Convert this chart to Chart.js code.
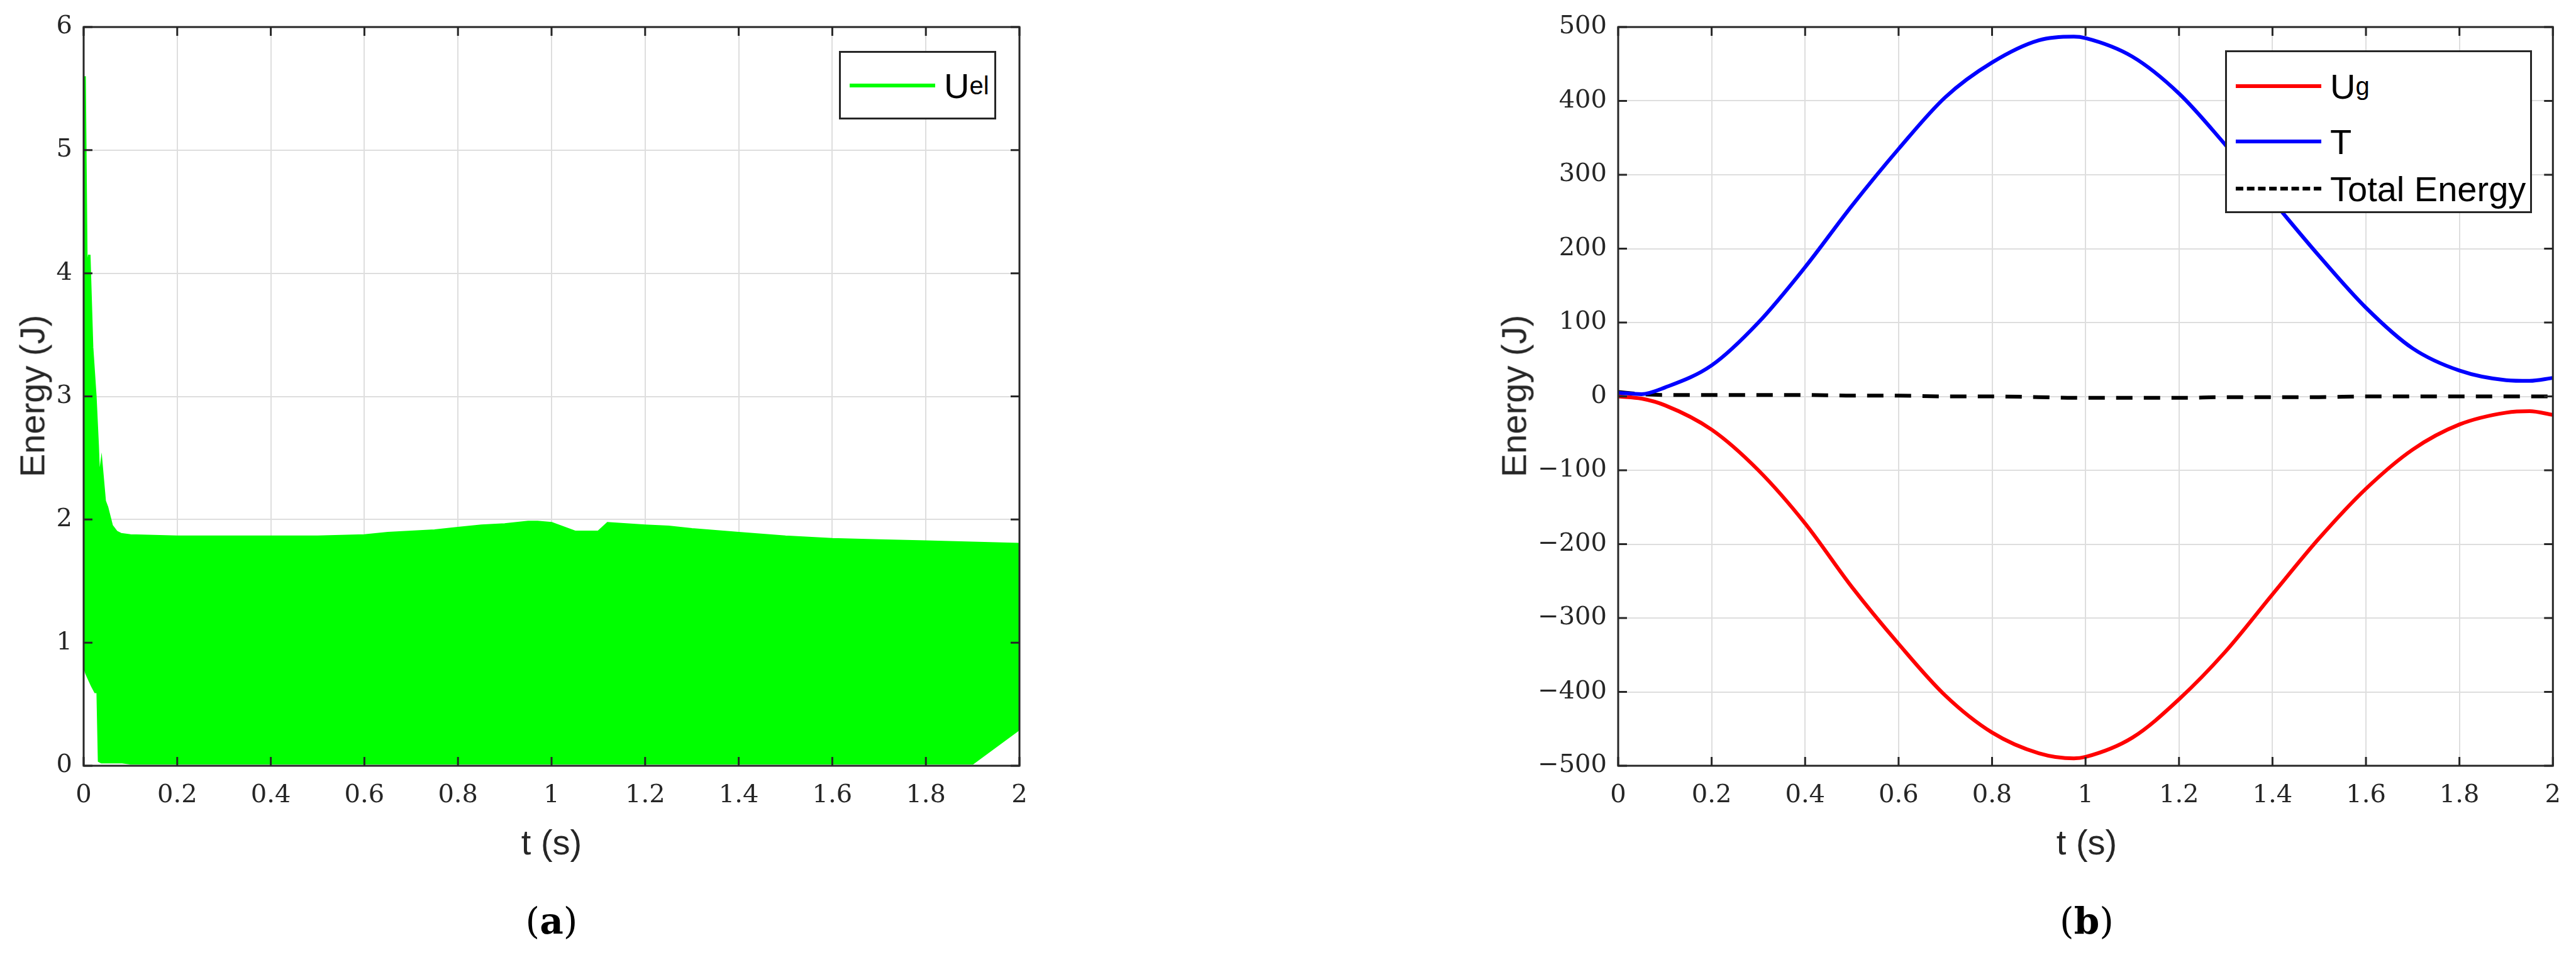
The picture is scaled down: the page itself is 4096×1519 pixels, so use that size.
<!DOCTYPE html>
<html><head><meta charset="utf-8">
<script src="https://cdn.jsdelivr.net/npm/chart.js@4"></script>
<style>
body{margin:0;background:#fff;width:4096px;height:1519px;position:relative;overflow:hidden}
canvas{position:absolute;top:0}
.t{position:absolute;font-family:"Liberation Sans",Arial,sans-serif;font-size:56px;color:#262626;white-space:nowrap}
.lab{position:absolute;font-family:"DejaVu Serif","Liberation Serif",serif;font-weight:bold;font-size:58px;color:#000}
.leg{position:absolute;border:3px solid #262626;background:#fff;box-sizing:border-box}
.row{position:absolute;left:14px;height:60px;display:flex;align-items:center;font-family:"Liberation Sans",Arial,sans-serif;font-size:56px;color:#000}
.sw{width:136px;height:0;margin-right:14px}
sub{font-size:40px;vertical-align:-14px}
</style></head><body>
<div id="wa" style="position:absolute;left:0;top:0;width:1700px;height:1519px"><canvas id="ca"></canvas></div>
<div id="wb" style="position:absolute;left:2350px;top:0;width:1746px;height:1519px"><canvas id="cb"></canvas></div>
<div class="t" style="left:51px;top:630px;transform:translate(-50%,-50%) rotate(-90deg)">Energy (J)</div>
<div class="t" style="left:877px;top:1339px;transform:translate(-50%,-50%)">t (s)</div>
<div class="t" style="left:2407px;top:630px;transform:translate(-50%,-50%) rotate(-90deg)">Energy (J)</div>
<div class="t" style="left:3318px;top:1339px;transform:translate(-50%,-50%)">t (s)</div>
<div class="lab" style="left:877px;top:1465px;transform:translate(-50%,-50%)"><span style="font-weight:normal">(</span>a<span style="font-weight:normal">)</span></div>
<div class="lab" style="left:3318px;top:1465px;transform:translate(-50%,-50%)"><span style="font-weight:normal">(</span>b<span style="font-weight:normal">)</span></div>
<div class="leg" style="left:1334px;top:81px;width:250px;height:109px">
 <div class="row" style="top:22px"><div class="sw" style="border-top:6px solid #00ff00"></div>U<sub>el</sub></div>
</div>
<div class="leg" style="left:3538px;top:80px;width:488px;height:259px">
 <div class="row" style="top:24px"><div class="sw" style="border-top:6px solid #ff0000"></div>U<sub>g</sub></div>
 <div class="row" style="top:112px"><div class="sw" style="border-top:6px solid #0000ff"></div>T</div>
 <div class="row" style="top:187px"><div class="sw" style="border-top:6px dashed #000"></div>Total Energy</div>
</div>
<script>
// Panel (a): U_el envelope (upper peaks and lower troughs of the fast oscillation)
const tA = [0,0.002,0.006,0.012,0.018,0.025,0.03,0.033,0.038,0.045,0.05,0.06,0.07,0.08,0.1,0.2,0.3,0.4,0.5,0.6,0.65,0.7,0.75,0.8,0.85,0.9,0.95,0.97,1.0,1.05,1.1,1.12,1.2,1.25,1.3,1.4,1.5,1.6,1.7,1.8,1.9,2.0];
const uelUpper = [3.6,5.6,4.0,4.15,3.4,3.0,2.6,2.3,2.45,2.15,2.1,1.95,1.9,1.88,1.87,1.86,1.86,1.86,1.86,1.87,1.89,1.9,1.91,1.93,1.95,1.96,1.98,1.98,1.97,1.9,1.9,1.97,1.95,1.94,1.92,1.89,1.86,1.84,1.83,1.82,1.81,1.8];
const uelLower = [2.2,0.8,0.75,0.7,0.65,0.6,0.6,0.04,0.03,0.03,0.03,0.03,0.03,0.03,0.02,0.02,0.02,0.02,0.02,0.02,0.02,0.02,0.02,0.02,0.02,0.02,0.02,0.02,0.02,0.02,0.02,0.02,0.02,0.02,0.02,0.02,0.02,0.02,0.02,0.02,0.02,0.3];
// Panel (b)
const tB = [0,0.05,0.1,0.2,0.3,0.4,0.5,0.6,0.7,0.8,0.9,0.975,1.0,1.1,1.2,1.3,1.4,1.5,1.6,1.7,1.8,1.9,1.95,2.0];
const Ug = [0,-3,-12,-45,-100,-172,-258,-335,-405,-455,-483,-490,-488,-462,-410,-345,-268,-192,-125,-72,-38,-22,-20,-25];
const Tk = [5,3,12,42,100,175,258,335,405,452,482,487,485,460,410,340,265,190,120,65,35,22,21,25];
const Etot = [6,3,2,2,2,2,1,1,0,0,-1,-2,-2,-2,-2,-1,-1,-1,0,0,0,0,0,0];
const xTicks = [0,0.2,0.4,0.6,0.8,1,1.2,1.4,1.6,1.8,2];

const pts = (xs, ys) => xs.map((x,i)=>({x, y: ys[i]}));
const box = {id:'box', afterDatasetsDraw(c){const a=c.chartArea,g=c.ctx;g.save();g.strokeStyle='#262626';g.lineWidth=3;g.strokeRect(a.left,a.top,a.right-a.left,a.bottom-a.top);
  // inward tick marks
  g.lineWidth=3;const xs=c.scales.x, ys=c.scales.y;
  xs.ticks.forEach(t=>{const p=xs.getPixelForValue(t.value);g.beginPath();g.moveTo(p,a.bottom);g.lineTo(p,a.bottom-14);g.moveTo(p,a.top);g.lineTo(p,a.top+14);g.stroke();});
  ys.ticks.forEach(t=>{const p=ys.getPixelForValue(t.value);g.beginPath();g.moveTo(a.left,p);g.lineTo(a.left+14,p);g.moveTo(a.right,p);g.lineTo(a.right-14,p);g.stroke();});
  g.restore();}};
const tickFont = {family:'"DejaVu Serif","Liberation Serif",serif', size:40};
const fmt = v => (v<0?'\u2212':'')+Math.abs(v);
function scales(ymin,ymax,step,yw){
  return {
    x:{type:'linear',min:0,max:2,afterBuildTicks:s=>{s.ticks=xTicks.map(v=>({value:v}));},
       afterFit:s=>{s.height=60;},grid:{color:'#dedede',lineWidth:2,drawTicks:false},border:{display:false},
       ticks:{font:tickFont,color:'#262626',padding:24,maxRotation:0,callback:fmt}},
    y:{min:ymin,max:ymax,afterFit:s=>{s.width=yw;},grid:{color:'#dedede',lineWidth:2,drawTicks:false},border:{display:false},
       ticks:{font:tickFont,color:'#262626',padding:18,stepSize:step,callback:fmt}}
  };
}
const common = {responsive:true,maintainAspectRatio:false,animation:false,plugins:{legend:{display:false},tooltip:{enabled:false}},elements:{point:{radius:0}}};

new Chart(document.getElementById('ca'),{type:'line',
  data:{datasets:[
    {data:pts(tA,uelUpper),borderColor:'#00ff00',backgroundColor:'#00ff00',borderWidth:4,fill:1},
    {data:pts(tA,uelLower),borderColor:'#00ff00',borderWidth:4,fill:false}
  ]},
  options:Object.assign({},common,{layout:{padding:{top:43,right:79,bottom:241,left:0}},scales:scales(0,6,1,133)}),
  plugins:[box]});

new Chart(document.getElementById('cb'),{type:'line',
  data:{datasets:[
    {data:pts(tB,Tk),borderColor:'#0000ff',borderWidth:6,cubicInterpolationMode:'monotone'},
    {data:pts(tB,Ug),borderColor:'#ff0000',borderWidth:6,cubicInterpolationMode:'monotone'},
    {data:pts(tB,Etot),borderColor:'#000000',borderWidth:6,borderDash:[26,18],cubicInterpolationMode:'monotone'}
  ]},
  options:Object.assign({},common,{layout:{padding:{top:43,right:33,bottom:241,left:0}},scales:scales(-500,500,100,223)}),
  plugins:[box]});
</script>
</body></html>
